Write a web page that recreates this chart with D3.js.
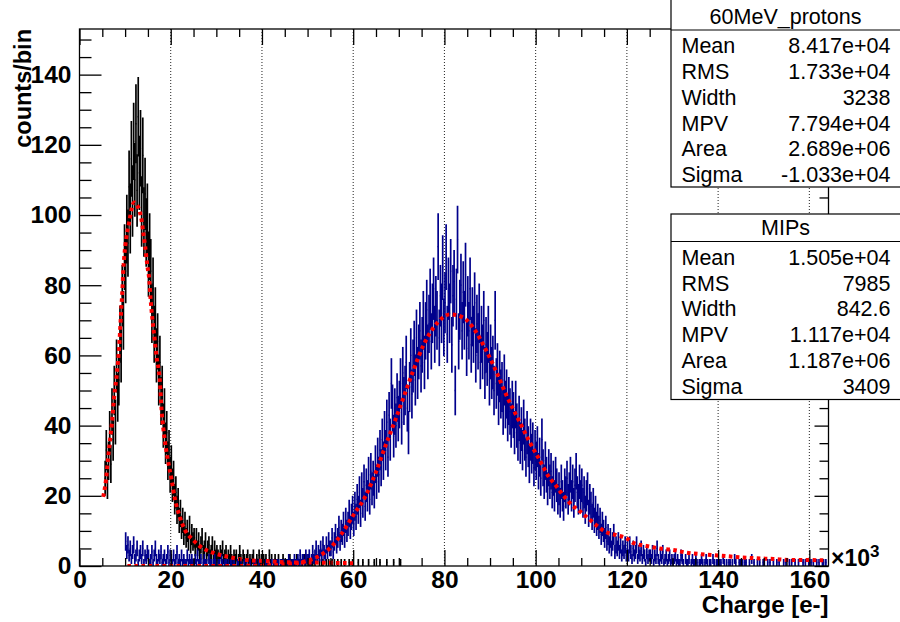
<!DOCTYPE html>
<html><head><meta charset="utf-8">
<script src="https://cdn.jsdelivr.net/npm/d3@7"></script>
<style>body{margin:0;background:#fff} svg{display:block}</style>
</head><body>
<svg id="c" width="900" height="622"></svg>
<script>
// ---------------- data (units of 10^3 e-) ----------------
const binWidth = 0.25;
const mipStart = 5.5;
const mipCounts = [
 25,33,24,30,38,29,44,36,50,41,57,48,53,66,60,77,70,88,84,96,
 92,108,99,116,104,121,110,126,107,128,112,119,101,117,98,106,95,99,86,91,
 84,72,79,66,71,60,64,53,58,47,50,40,44,35,38,30,33,26,29,23,
 25,19,21,16,18,13,15,11,13,9,12,8,10,7,11,6,9,7,8,5,
 8,5,7,4,6,8,4,5,7,3,5,6,3,4,6,2,5,3,4,3,
 2,4,3,5,2,3,4,1,3,2,4,2,1,3,2,3,1,2,4,2,
 1,3,2,1,2,3,1,2,1,2,3,1,1,2,1,3,1,2,1,2,
 1,2,1,1,3,1,2,0,1,2,1,1,2,0,1,1,2,1,0,1,
 1,0,2,1,1,0,1,1,2,0,1,0,1,1,0,2,1,0,1,1,
 0,1,1,0,1,0,2,0,1,0,1,1,0,0,1,0,1,0,0,1,
 0,1,0,0,1,0,0,1,0,0,1,0,0,0,1,0,0,1,0,0,
 0,0,1,0,0,0,1,0,0,0,0,1,0,0,0,0,1,0,0,0,
 0,1,0,0,0,0,0,1,0,0,0,0,0,1,0,0,0,0,0,1
];
const protStart = 10.0;
const protCounts = [
 7,4,6,3,5,2,4,6,2,3,5,1,3,4,2,5,1,3,2,4,
 3,1,2,4,1,3,5,2,1,3,2,4,1,2,3,1,2,4,1,3,
 2,1,3,1,2,4,1,2,1,3,1,2,1,1,3,1,2,1,2,1,
 1,2,1,3,1,1,2,0,1,2,1,1,0,2,1,1,0,1,2,1,
 0,1,1,0,2,1,0,1,1,0,1,0,1,1,0,1,0,0,1,1,
 0,1,0,0,1,0,1,0,0,1,0,0,1,0,1,0,0,1,0,0,
 1,0,0,1,0,1,0,0,1,0,1,0,0,1,1,0,1,0,1,1,
 1,0,1,2,1,0,1,1,2,1,1,2,1,3,1,2,2,1,3,2,
 2,3,1,2,4,2,3,5,2,4,3,5,3,6,4,3,6,4,7,5,
 5,8,4,7,9,6,8,11,7,10,9,12,8,13,10,12,15,11,14,16,
 12,17,14,19,16,21,15,22,18,24,17,23,20,26,19,27,22,25,21,29,
 24,31,26,33,28,36,30,38,33,41,31,43,36,52,45,37,44,40,48,42,
 46,52,41,55,47,50,58,45,38,51,60,49,57,62,53,65,55,61,67,57,
 63,70,58,67,73,61,69,76,64,72,79,66,74,70,91,65,77,72,85,68,
 75,88,66,79,72,84,63,77,81,50,76,93,64,73,80,67,78,70,83,62,
 74,67,79,63,71,66,75,60,69,64,72,58,66,61,70,55,63,59,66,53,
 61,55,58,50,70,52,56,47,54,49,51,44,53,46,49,42,47,44,40,46,
 43,38,46,40,36,42,35,39,33,41,36,31,38,34,29,36,32,35,28,33,
 30,34,27,31,25,36,28,24,30,26,22,28,24,27,21,25,20,26,23,19,
 22,18,24,20,17,23,21,25,19,22,26,20,24,18,23,27,21,19,24,20,
 23,18,21,16,20,22,15,19,17,14,18,13,16,12,14,11,13,9,12,10,
 8,11,7,9,6,8,5,7,9,4,6,5,7,4,6,3,5,4,6,3,
 5,3,6,4,2,5,3,4,6,2,4,3,5,2,4,3,1,4,2,3,
 3,2,4,1,3,2,5,2,1,3,2,4,1,2,3,1,2,3,1,2,
 1,2,3,1,2,1,1,3,2,1,0,2,1,1,2,0,1,2,1,1,
 2,1,0,1,1,2,1,0,1,2,1,0,1,1,0,2,1,0,1,1,
 0,1,1,0,2,1,0,1,0,1,1,0,1,0,2,1,0,0,1,1,
 0,1,0,1,1,0,0,1,0,2,0,1,0,0,1,0,1,0,0,1,
 1,0,0,1,0,1,0,0,1,0,0,1,0,1,0,0,0,1,0,1,
 0,0,1,0,1,0,0,1,0,0,1,0,0,0,1,0,1,0,0,1,
 0,1,0,1,0,0,1,0,1,0,0,1,1,0,1,0
];
const mipFitX = [5.2,5.8,6.3,6.7,7.1,7.6,8.2,8.7,9.1,9.4,9.6,9.8,10.3,10.9,11.4,12.0,12.6,13.3,13.6,14.0,14.4,14.9,15.3,15.6,16.0,16.5,16.9,17.6,18.0,18.7,19.5,20.2,20.9,22.0,23.1,24.9,27.1,29.7,33.0,36.6,41.0,45.4,49.8,55.0,60.0];
const mipFitY = [19.7,24.5,31.1,35.9,40.6,48.2,54.9,62.5,72.0,78.6,84.3,88.0,93.8,98.0,101.6,103.6,102.8,100.5,98.6,94.8,91.0,85.3,81.5,75.8,70.1,64.4,59.6,53.0,44.4,35.9,29.3,24.5,19.3,14.0,10.3,7.4,5.0,3.6,2.5,1.7,1.4,1.05,1.0,0.9,0.8];
const protFitX = [10.5,20,30,40,45,50,52.7,55,57.1,60,62.7,65,67.2,69.2,71,73.2,75.4,78.6,81.2,84.1,86.3,89.2,91.4,93.6,96.5,98.7,100.9,103.1,104.2,106,107.9,109.3,111.5,113.7,115.2,117.7,119.9,121.4,124.3,127.2,130.1,133.1,136,138.9,141.8,144.8,148.4,152.1,155.7,159.4,163.5];
const protFitY = [0,0,0,0.1,0.5,1.5,3.0,5.2,8.5,14.4,19.9,26.8,34.7,41.5,47.9,55.8,62.9,69.5,71.7,70.8,67.9,61.3,55.3,48.6,41.0,35.3,30.1,25.0,23.3,20.2,17.4,16.0,13.6,11.2,9.8,8.8,7.9,6.6,5.7,5.0,4.6,3.8,3.4,3.1,2.8,2.5,2.2,2.0,1.7,1.7,1.6];
const xMajor = [0,20,40,60,80,100,120,140,160];
const yMajor = [0,20,40,60,80,100,120,140];
const protStatsTitle = "60MeV_protons";
const protStatsLabels = ["Mean","RMS","Width","MPV","Area","Sigma"];
const protStatsValues = ["8.417e+04","1.733e+04","3238","7.794e+04","2.689e+06","-1.033e+04"];
const mipStatsTitle = "MIPs";
const mipStatsLabels = ["Mean","RMS","Width","MPV","Area","Sigma"];
const mipStatsValues = ["1.505e+04","7985","842.6","1.117e+04","1.187e+06","3409"];

// ---------------- layout ----------------
const F = "'Liberation Sans', Arial, Helvetica, sans-serif";
const L = 79.5, R = 828.5, T = 29, B = 566;
const x = d3.scaleLinear().domain([0, 164.2]).range([L, R]);
const y = d3.scaleLinear().domain([0, 153]).range([B, T]);
const svg = d3.select("#c");
svg.append("rect").attr("width",900).attr("height",622).attr("fill","#fff");
svg.append("defs").append("clipPath").attr("id","clip")
  .append("rect").attr("x",L).attr("y",T).attr("width",R-L).attr("height",B-T);

// grid
svg.append("g").selectAll("line").data(xMajor.filter(d=>d>0)).join("line")
  .attr("x1",d=>x(d)).attr("x2",d=>x(d)).attr("y1",T).attr("y2",B)
  .attr("stroke","#222").attr("stroke-width",1).attr("stroke-dasharray","1,2");

// histograms (ROOT "E" style: value tick + sqrt(N) error bar)
function drawHist(start, counts, color){
  const g = svg.append("g").attr("clip-path","url(#clip)").attr("stroke",color);
  counts.forEach((n,i)=>{
    if(n<=0) return;
    const lo = start + i*binWidth, hi = lo + binWidth, c = lo + binWidth/2;
    const e = Math.sqrt(n);
    g.append("line").attr("x1",x(lo)).attr("x2",x(hi)).attr("y1",y(n)).attr("y2",y(n)).attr("stroke-width",1.3);
    g.append("line").attr("x1",x(c)).attr("x2",x(c)).attr("y1",y(Math.max(0,n-e))).attr("y2",y(n+e)).attr("stroke-width",1.7);
  });
}
drawHist(mipStart, mipCounts, "#000");
drawHist(protStart, protCounts, "#00008c");

// fits
const line = d3.line().x(d=>x(d[0])).y(d=>y(d[1])).curve(d3.curveMonotoneX);
[[mipFitX,mipFitY],[protFitX,protFitY]].forEach(([fx,fy])=>{
  svg.append("path").attr("clip-path","url(#clip)")
    .attr("d", line(fx.map((v,i)=>[v,fy[i]])))
    .attr("fill","none").attr("stroke","#ff0000").attr("stroke-width",4)
    .attr("stroke-dasharray","3.6,3.4");
});

// axes
const xMinor = d3.range(0,165,5).filter(d=>d%20!==0);
const yMinor = d3.range(0,154,5).filter(d=>d%20!==0);
function styleAxis(g){ g.select(".domain").remove(); g.selectAll("line").attr("stroke","#000").attr("stroke-width",1.3); }
svg.append("g").attr("transform",`translate(0,${B})`)
  .call(d3.axisBottom(x).tickValues(xMajor).tickSize(-16).tickPadding(5).tickFormat(d3.format("d")))
  .call(styleAxis)
  .call(g=>g.selectAll("text").attr("font-family",F).attr("font-size",24.5).attr("font-weight","bold").attr("fill","#000"));
svg.append("g").attr("transform",`translate(0,${B})`).call(d3.axisBottom(x).tickValues(xMinor).tickSize(-8).tickFormat("")).call(styleAxis);
svg.append("g").attr("transform",`translate(0,${T})`).call(d3.axisTop(x).tickValues(xMajor).tickSize(-16).tickFormat("")).call(styleAxis);
svg.append("g").attr("transform",`translate(0,${T})`).call(d3.axisTop(x).tickValues(xMinor).tickSize(-8).tickFormat("")).call(styleAxis);
svg.append("g").attr("transform",`translate(${L},0)`)
  .call(d3.axisLeft(y).tickValues(yMajor).tickSize(-22).tickPadding(8).tickFormat(d3.format("d")))
  .call(styleAxis)
  .call(g=>g.selectAll("text").attr("font-family",F).attr("font-size",24.5).attr("font-weight","bold").attr("fill","#000"));
svg.append("g").attr("transform",`translate(${L},0)`).call(d3.axisLeft(y).tickValues(yMinor).tickSize(-12).tickFormat("")).call(styleAxis);
svg.append("g").attr("transform",`translate(${R},0)`).call(d3.axisRight(y).tickValues(yMajor).tickSize(-14).tickFormat("")).call(styleAxis);
svg.append("g").attr("transform",`translate(${R},0)`).call(d3.axisRight(y).tickValues(yMinor).tickSize(-9).tickFormat("")).call(styleAxis);

// frame
svg.append("rect").attr("x",L).attr("y",T).attr("width",R-L).attr("height",B-T)
  .attr("fill","none").attr("stroke","#000").attr("stroke-width",1.3);

// axis titles
svg.append("text").attr("x",R).attr("y",613).attr("text-anchor","end")
  .attr("font-family",F).attr("font-size",24).attr("font-weight","bold").text("Charge [e-]");
svg.append("text").attr("transform",`translate(31,${T}) rotate(-90)`).attr("text-anchor","end")
  .attr("font-family",F).attr("font-size",23.5).attr("font-weight","bold").text("counts/bin");
const exp = svg.append("text").attr("x",831).attr("y",566)
  .attr("font-family",F).attr("font-size",23).attr("font-weight","bold");
exp.append("tspan").text("\u00d710");
exp.append("tspan").attr("dy",-9).attr("font-size",17).text("3");

// stats boxes
function statsBox(top, sep, bottom, title, labels, values){
  const g = svg.append("g");
  g.append("rect").attr("x",671).attr("y",top).attr("width",240).attr("height",bottom-top)
    .attr("fill","#fff").attr("stroke","#000").attr("stroke-width",1.2);
  g.append("line").attr("x1",671).attr("x2",905).attr("y1",sep).attr("y2",sep).attr("stroke","#000").attr("stroke-width",1.2);
  g.append("text").attr("x",785.5).attr("y",sep-6.5).attr("text-anchor","middle")
    .attr("font-family",F).attr("font-size",21.5).text(title);
  labels.forEach((lab,i)=>{
    const by = sep + 23.3 + i*25.75;
    g.append("text").attr("x",681.5).attr("y",by).attr("font-family",F).attr("font-size",21.5).text(lab);
    g.append("text").attr("x",890.5).attr("y",by).attr("text-anchor","end").attr("font-family",F).attr("font-size",21.5).text(values[i]);
  });
}
statsBox(-3, 30, 187, protStatsTitle, protStatsLabels, protStatsValues);
statsBox(214, 241.5, 399.5, mipStatsTitle, mipStatsLabels, mipStatsValues);
</script>
</body></html>
